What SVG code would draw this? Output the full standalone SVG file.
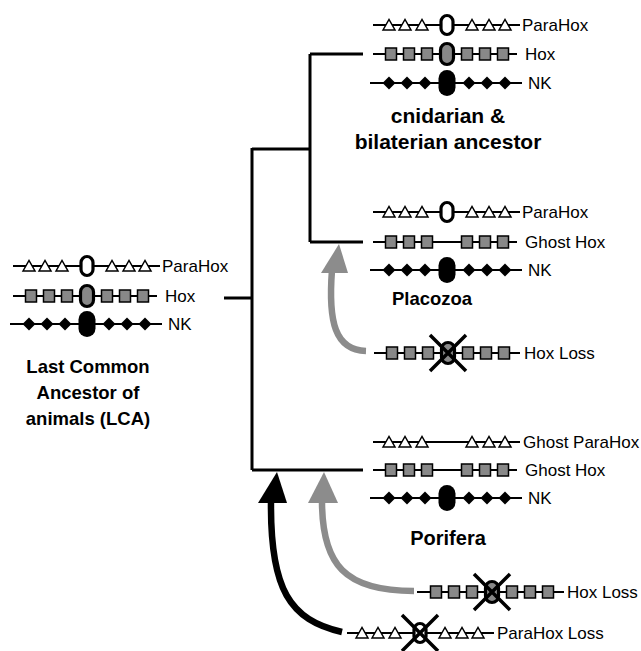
<svg xmlns="http://www.w3.org/2000/svg" xmlns:xlink="http://www.w3.org/1999/xlink" width="641" height="651" viewBox="0 0 641 651">
<style>
.bg{fill:#ffffff}
.chr{stroke:#000;stroke-width:2;fill:none}
.lbl{font-family:"Liberation Sans",Arial,sans-serif;font-size:17px;fill:#000}
.title{font-family:"Liberation Sans",Arial,sans-serif;font-weight:bold;fill:#000;text-anchor:middle}
.tree{stroke:#000;stroke-width:3;fill:none}
.garrow{stroke:#8c8c8c;stroke-width:6.5;fill:none}
.barrow{stroke:#000;stroke-width:6.5;fill:none}
</style>
<defs>
<polygon id="tri" points="-6,5 0,-5.5 6,5" fill="#fff" stroke="#000" stroke-width="1.5"/>
<rect id="sq" x="-5.5" y="-6" width="11" height="12" fill="#888" stroke="#000" stroke-width="1.5"/>
<polygon id="dia" points="0,-6.5 6.5,0 0,6.5 -6.5,0" fill="#000"/>
<rect id="ovP" x="-6" y="-9.5" width="12" height="19" rx="6" fill="#fff" stroke="#000" stroke-width="3.2"/>
<rect id="ovH" x="-6.5" y="-10.5" width="13" height="21" rx="6.5" fill="#888" stroke="#000" stroke-width="3.2"/>
<rect id="ovN" x="-8.5" y="-13" width="17" height="26" rx="8.5" fill="#000"/>
<path id="cross" d="M-18,-18 L18,18 M18,-18 L-18,18" stroke="#000" stroke-width="3.5" fill="none"/>
<g id="triL"><use xlink:href="#tri" x="-58"/><use xlink:href="#tri" x="-42"/><use xlink:href="#tri" x="-25"/></g>
<g id="triR"><use xlink:href="#tri" x="25"/><use xlink:href="#tri" x="42"/><use xlink:href="#tri" x="58"/></g>
<g id="sqL"><use xlink:href="#sq" x="-56"/><use xlink:href="#sq" x="-38"/><use xlink:href="#sq" x="-20"/></g>
<g id="sqR"><use xlink:href="#sq" x="20"/><use xlink:href="#sq" x="38"/><use xlink:href="#sq" x="56"/></g>
<g id="diaL"><use xlink:href="#dia" x="-58"/><use xlink:href="#dia" x="-40"/><use xlink:href="#dia" x="-22"/></g>
<g id="diaR"><use xlink:href="#dia" x="22"/><use xlink:href="#dia" x="40"/><use xlink:href="#dia" x="58"/></g>
</defs>
<rect class="bg" x="0" y="0" width="641" height="651"/>

<g id="connectors">
<path class="tree" d="M224,298 H252 M252,148 V470 M252,149 H310 M310,54 V242 M310,54 H363 M310,242 H363 M252,470 H363"/>
<path class="garrow" d="M366,351 C335,350 328,322 332,270"/>
<polygon points="339,244 321,273 348,273" fill="#8c8c8c"/>
<path class="garrow" d="M414,591 C345,591 322,565 322,501"/>
<polygon points="324,472 308,503 338,503" fill="#8c8c8c"/>
<path class="barrow" d="M342,632 C290,620 270,590 271,501"/>
<polygon points="277,472 258,503 287,503" fill="#000"/>
</g>

<g id="lca" transform="translate(87,0)">
<g transform="translate(0,266)"><path class="chr" d="M-74,0 H73"/><use xlink:href="#triL"/><use xlink:href="#triR"/><use xlink:href="#ovP"/><text class="lbl" x="75" y="6">ParaHox</text></g>
<g transform="translate(0,296)"><path class="chr" d="M-74,0 H70"/><use xlink:href="#sqL"/><use xlink:href="#sqR"/><use xlink:href="#ovH"/><text class="lbl" x="78" y="6">Hox</text></g>
<g transform="translate(0,324)"><path class="chr" d="M-77,0 H75"/><use xlink:href="#diaL"/><use xlink:href="#diaR"/><use xlink:href="#ovN"/><text class="lbl" x="81" y="6">NK</text></g>
<text class="title" x="1" y="373" font-size="18.5">Last Common</text>
<text class="title" x="1" y="399" font-size="18.5">Ancestor of</text>
<text class="title" x="1" y="425" font-size="18.5">animals (LCA)</text>
</g>

<g id="cnidarian-bilaterian" transform="translate(447,0)">
<g transform="translate(0,25)"><path class="chr" d="M-74,0 H73"/><use xlink:href="#triL"/><use xlink:href="#triR"/><use xlink:href="#ovP"/><text class="lbl" x="75" y="6">ParaHox</text></g>
<g transform="translate(0,54)"><path class="chr" d="M-74,0 H70"/><use xlink:href="#sqL"/><use xlink:href="#sqR"/><use xlink:href="#ovH"/><text class="lbl" x="78" y="6">Hox</text></g>
<g transform="translate(0,83)"><path class="chr" d="M-77,0 H75"/><use xlink:href="#diaL"/><use xlink:href="#diaR"/><use xlink:href="#ovN"/><text class="lbl" x="81" y="6">NK</text></g>
<text class="title" x="1" y="123" font-size="21">cnidarian &amp;</text>
<text class="title" x="1" y="149" font-size="21">bilaterian ancestor</text>
</g>

<g id="placozoa" transform="translate(447,0)">
<g transform="translate(0,212)"><path class="chr" d="M-74,0 H73"/><use xlink:href="#triL"/><use xlink:href="#triR"/><use xlink:href="#ovP"/><text class="lbl" x="75" y="6">ParaHox</text></g>
<g transform="translate(0,242)"><path class="chr" d="M-74,0 H70"/><use xlink:href="#sqL"/><use xlink:href="#sqR"/><text class="lbl" x="78" y="6">Ghost Hox</text></g>
<g transform="translate(0,270)"><path class="chr" d="M-77,0 H75"/><use xlink:href="#diaL"/><use xlink:href="#diaR"/><use xlink:href="#ovN"/><text class="lbl" x="81" y="6">NK</text></g>
<text class="title" x="-15" y="305" font-size="18.5">Placozoa</text>
</g>

<g id="placozoa-hox-loss" transform="translate(448,353)">
<path class="chr" d="M-74,0 H72"/><use xlink:href="#sqL"/><use xlink:href="#sqR"/><use xlink:href="#ovH"/><use xlink:href="#cross"/><text class="lbl" x="76" y="6">Hox Loss</text>
</g>

<g id="porifera" transform="translate(447,0)">
<g transform="translate(0,442)"><path class="chr" d="M-74,0 H73"/><use xlink:href="#triL"/><use xlink:href="#triR"/><text class="lbl" x="76" y="6">Ghost ParaHox</text></g>
<g transform="translate(0,470)"><path class="chr" d="M-74,0 H70"/><use xlink:href="#sqL"/><use xlink:href="#sqR"/><text class="lbl" x="78" y="6">Ghost Hox</text></g>
<g transform="translate(0,498)"><path class="chr" d="M-77,0 H75"/><use xlink:href="#diaL"/><use xlink:href="#diaR"/><use xlink:href="#ovN"/><text class="lbl" x="81" y="6">NK</text></g>
<text class="title" x="1" y="545" font-size="20">Porifera</text>
</g>

<g id="porifera-hox-loss" transform="translate(492,592)">
<path class="chr" d="M-75,0 H72"/><use xlink:href="#sqL"/><use xlink:href="#sqR"/><use xlink:href="#ovH"/><use xlink:href="#cross"/><text class="lbl" x="75" y="6">Hox Loss</text>
</g>

<g id="parahox-loss" transform="translate(420,633)">
<path class="chr" d="M-73,0 H74"/><use xlink:href="#triL"/><use xlink:href="#triR"/><use xlink:href="#ovP"/><use xlink:href="#cross"/><text class="lbl" x="77" y="6">ParaHox Loss</text>
</g>
</svg>
